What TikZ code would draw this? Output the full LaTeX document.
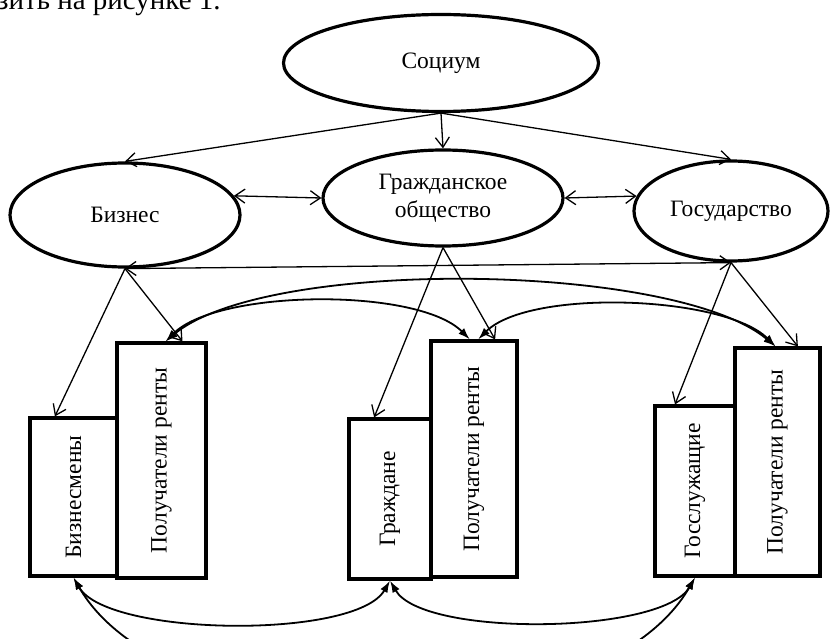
\documentclass[tikz,border=0pt]{standalone}
\usepackage{fontspec}
\setmainfont{Liberation Serif}
\usetikzlibrary{shapes.geometric,arrows.meta}

\begin{document}
\begin{tikzpicture}[x=1pt, y=1pt, font=\fontsize{23.5}{28}\selectfont]
        \tikzstyle{ell}=[ellipse, draw, line width=3.2pt, inner sep=0pt, align=center]
        \tikzstyle{box}=[rectangle, draw, line width=3.2pt, inner sep=0pt]
        \tikzstyle{link}=[line width=1.3pt, -{Straight Barb[length=10pt,width=14pt]}]
        \tikzstyle{both}=[line width=1.3pt, {Straight Barb[length=10pt,width=14pt]}-{Straight Barb[length=10pt,width=14pt]}]
        \tikzstyle{curve}=[line width=1.8pt, {Latex[length=12pt,width=8pt]}-{Latex[length=12pt,width=8pt]}]
        \useasboundingbox (0,0) rectangle (830,-639);
        % text above the figure
        \node [anchor=base west, inner sep=0pt, font=\fontsize{29}{34}\selectfont] (cap) at (-3,-10) {зить на рисунке 1.};
        % ellipses
        \node [ell, minimum width=315pt, minimum height=97pt] (soc) at (441,-63) {Социум};
        \node [ell, minimum width=230pt, minimum height=104pt] (biz) at (125,-215) {Бизнес};
        \node [ell, minimum width=240pt, minimum height=96pt] (civ) at (443,-198) {Гражданское\\общество};
        \node [ell, minimum width=194pt, minimum height=100pt] (gos) at (731,-211) {Государство};
        % boxes
        \node [box, minimum width=87pt, minimum height=158pt] (bm) at (73.5,-497) {\rotatebox{90}{Бизнесмены}};
        \node [box, minimum width=89pt, minimum height=235pt] (pr1) at (161.5,-460.5) {\rotatebox{90}{Получатели ренты}};
        \node [box, minimum width=82pt, minimum height=160pt] (gr) at (390,-499) {\rotatebox{90}{Граждане}};
        \node [box, minimum width=86pt, minimum height=236pt] (pr2) at (474,-459) {\rotatebox{90}{Получатели ренты}};
        \node [box, minimum width=80pt, minimum height=170pt] (gs) at (695,-491) {\rotatebox{90}{Госслужащие}};
        \node [box, minimum width=85pt, minimum height=228pt] (pr3) at (777.5,-462) {\rotatebox{90}{Получатели ренты}};
        % arrows between ellipses
        \draw [link] (soc.south) -- (biz.north);
        \draw [link] (soc.south) -- (civ.north);
        \draw [link] (soc.south) -- (gos.north);
        \draw [both] (biz.10) -- (civ.west);
        \draw [both] (civ.east) -- (gos.171);
        \draw [both] (biz.south) -- (gos.south);
        % arrows to boxes
        \draw [link] (biz.south) -- (bm.103);
        \draw [link] (biz.south) -- (pr1.80);
        \draw [link] (civ.south) -- (gr.101);
        \draw [link] (civ.south) -- (pr2.80);
        \draw [link] (gos.south) -- (gs.103);
        \draw [link] (gos.south) -- (pr3.80);
        % curved links
        \draw [curve] (pr1.88) to[out=45, in=135, looseness=0.62] (pr2.92);
        \draw [curve] (pr1.88) to[out=40, in=140, looseness=0.55] (pr3.91);
        \draw [curve] (pr2.88) to[out=45, in=135, looseness=0.62] (pr3.91);
        \draw [curve] (bm.south) to[out=-60, in=-120, looseness=0.55] (gr.south);
        \draw [curve] (gr.south) to[out=-60, in=-120, looseness=0.55] (gs.south);
        \draw [curve] (bm.south) to[out=-60, in=-120, looseness=0.8] (gs.south);
\end{tikzpicture}
\end{document}
